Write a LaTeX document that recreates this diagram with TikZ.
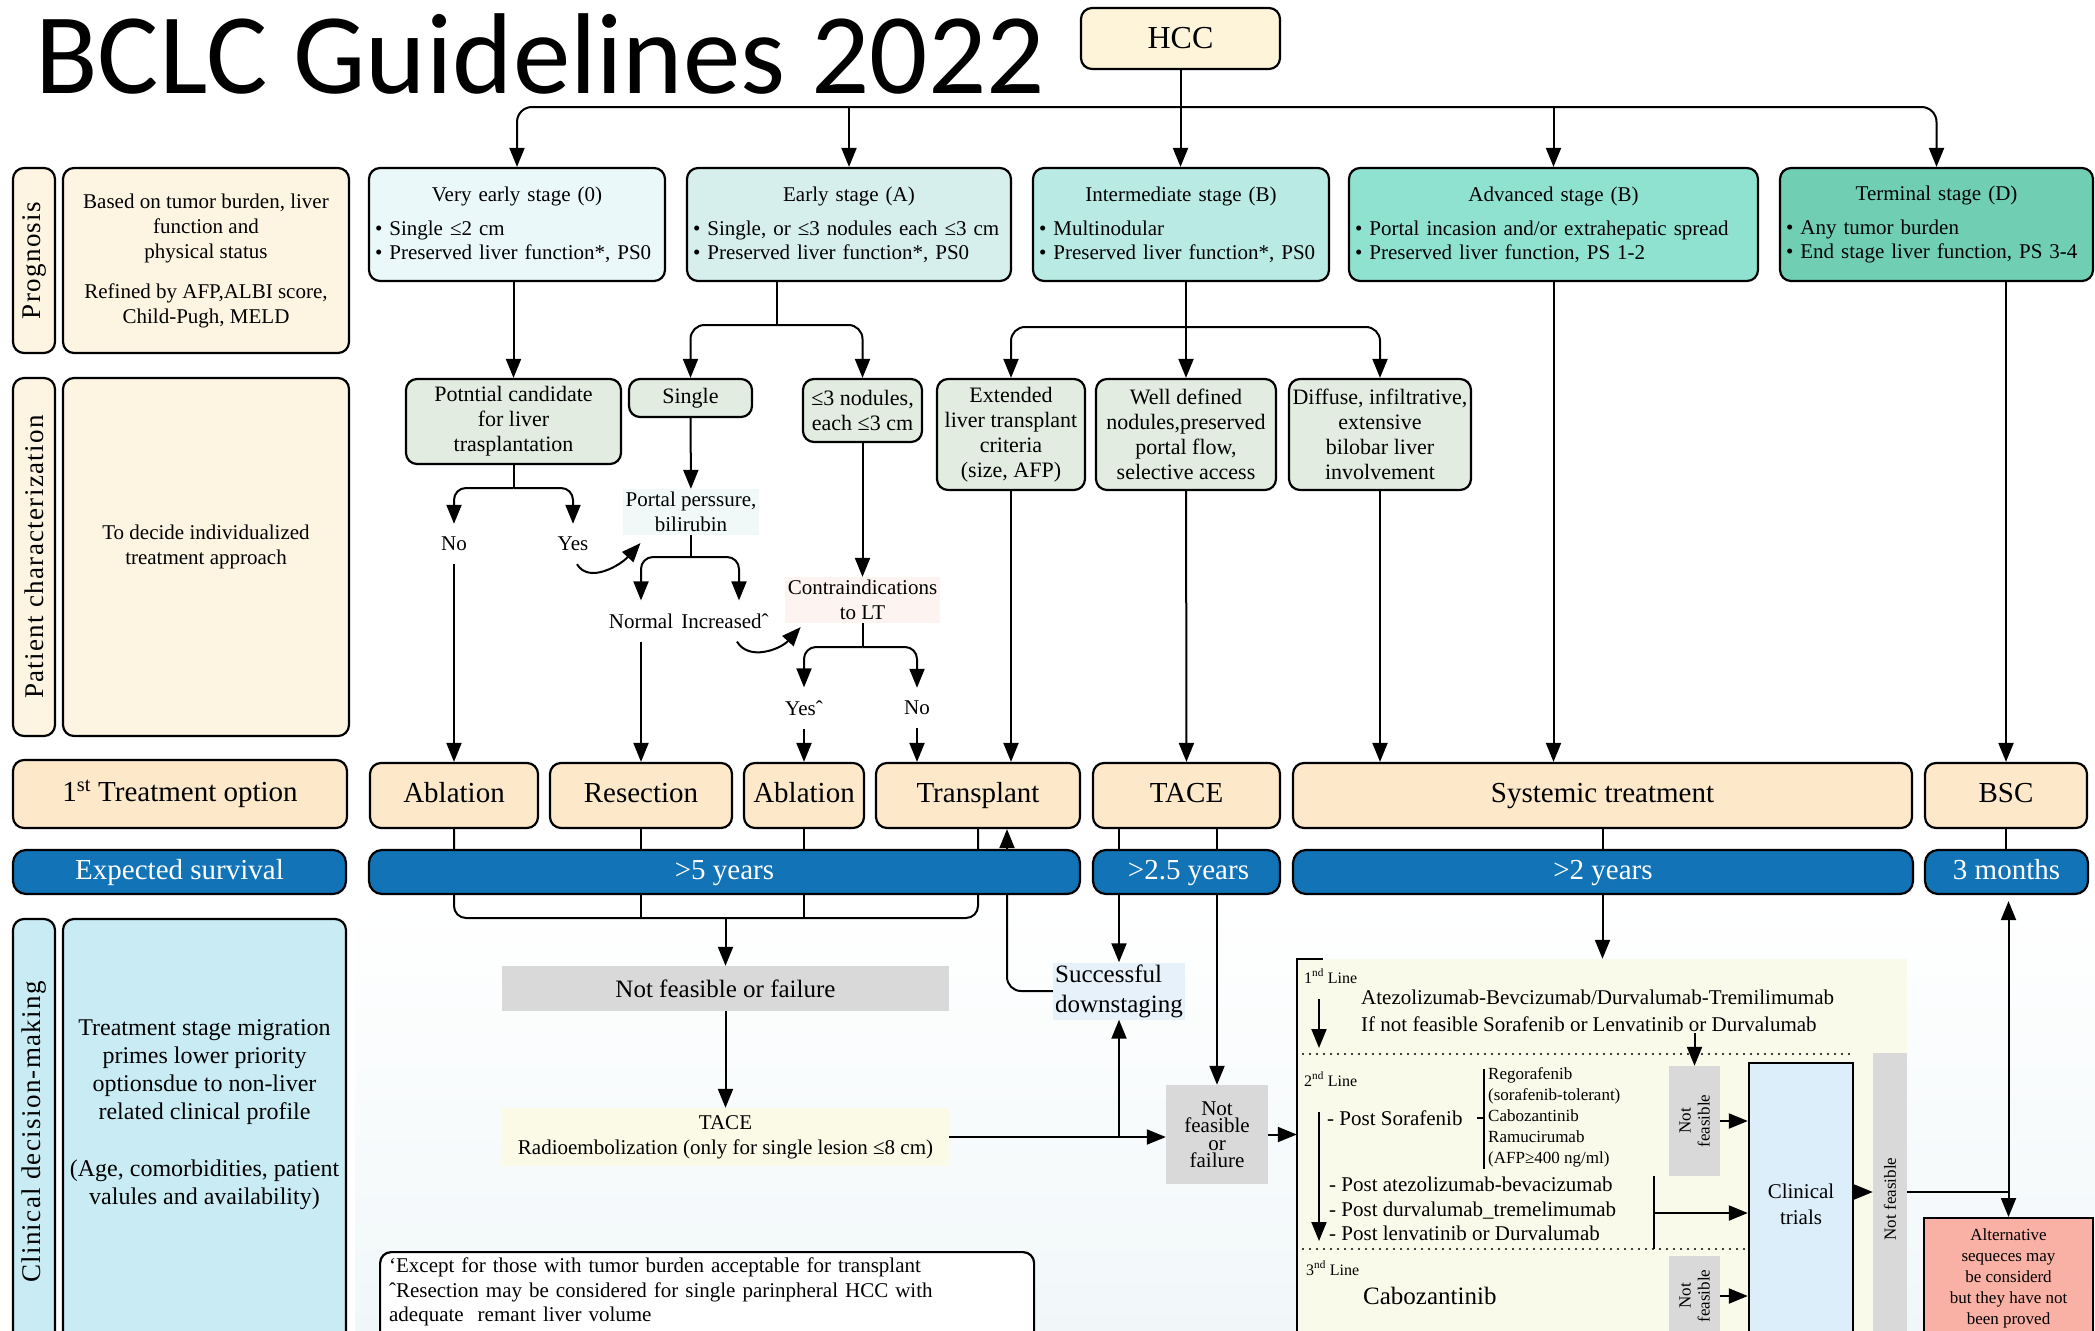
\documentclass[tikz,border=0pt]{standalone}
\usepackage{fontspec}
\setmainfont{Liberation Serif}
\newfontfamily\titlefont{Carlito}
\newfontfamily\tabfont[LetterSpace=5]{Liberation Serif}
\usetikzlibrary{arrows.meta}
\newcommand\pxfont[2]{\fontsize{#1}{#2}\selectfont}
\definecolor{cream}{HTML}{FDF4E1}
\definecolor{hccfill}{HTML}{FDF4DA}
\definecolor{peach}{HTML}{FDE8C9}
\definecolor{sage}{HTML}{E2ECE1}
\definecolor{st0}{HTML}{EAF8F9}
\definecolor{stA}{HTML}{D6EFEC}
\definecolor{stB}{HTML}{B9EBE4}
\definecolor{stC}{HTML}{8FE2D0}
\definecolor{stD}{HTML}{70CFB3}
\definecolor{survblue}{HTML}{1273B7}
\definecolor{clinblue}{HTML}{C9ECF4}
\definecolor{greyfill}{HTML}{D9D9D9}
\definecolor{sysfill}{HTML}{FAFAEA}
\definecolor{trialfill}{HTML}{DCEEFA}
\definecolor{altfill}{HTML}{F9B0A5}
\definecolor{portalfill}{HTML}{F1F9F8}
\definecolor{contrafill}{HTML}{FDF4F1}
\definecolor{succfill}{HTML}{E6F1FA}
\definecolor{radiofill}{HTML}{FAFAE6}
\definecolor{bgfill}{HTML}{F1F7F9}
\tikzset{
  arr/.style={-{Triangle[length=19pt,width=15pt]}, line width=2pt},
  con/.style={line width=2pt},
  rbox/.style={draw, line width=2.2pt, rounded corners=11pt, inner sep=4pt},
  stage/.style={rbox, align=left, font=\pxfont{21}{24}},
  tab/.style={rbox, rotate=90, fill=cream, font=\tabfont\pxfont{27}{30}},
  desc/.style={rbox, fill=cream, align=center, font=\pxfont{21}{25}},
  choice/.style={rbox, fill=sage, align=center, inner xsep=2pt, font=\pxfont{22}{25}},
  opt/.style={rbox, fill=peach, text height=20pt, text depth=6pt, font=\pxfont{29}{32}},
  surv/.style={rbox, fill=survblue, text=white, rounded corners=13pt, text height=20pt, text depth=6pt, font=\pxfont{29}{32}},
  lbl/.style={inner xsep=2pt, inner ysep=13pt, font=\pxfont{21}{25}},
  note/.style={align=center, inner sep=3pt, font=\pxfont{21}{25}},
  greybox/.style={fill=greyfill, inner sep=2pt, align=center, font=\pxfont{17}{19}},
  linetxt/.style={anchor=base west, inner sep=1pt, font=\pxfont{16}{18}},
  systxt/.style={anchor=west, align=left, inner sep=1pt, font=\pxfont{21}{25}},
  dotline/.style={line width=2.4pt, line cap=round, dash pattern=on 0pt off 7pt}
}
\begin{document}
\begin{tikzpicture}[x=1pt,y=-1pt]
\useasboundingbox (0,0) rectangle (2095,1330);
\clip (0,0) rectangle (2095,1330);
\shade[top color=white, bottom color=bgfill] (355,900) rectangle (2095,1330);

\node[anchor=base west, inner sep=0, font=\titlefont\pxfont{115}{120}] (title) at (35,93) {BCLC Guidelines 2022};
\node[rbox, fill=hccfill, minimum width=199, minimum height=61, font=\pxfont{32}{34}] (hcc) at (1180.5,38.5) {HCC};

\node[tab, minimum width=185, minimum height=42] (progtab) at (34,260.5) {Prognosis};
\node[desc, minimum width=286, minimum height=185] (progdesc) at (206,260.5) {Based on tumor burden, liver\\function and\\physical status\\[15pt]Refined by AFP,ALBI score,\\Child-Pugh, MELD};
\node[tab, minimum width=358, minimum height=42] (pattab) at (34,557) {Patient characterization};
\node[desc, minimum width=286, minimum height=358] (patdesc) at (206,557) {To decide individualized\\treatment approach\\~};
\node[opt, minimum width=334, minimum height=68] (firstopt) at (180,794) {1\textsuperscript{st} Treatment option};
\node[surv, minimum width=333, minimum height=44] (expsurv) at (179.5,872) {Expected survival};
\node[tab, fill=clinblue, minimum width=426, minimum height=42] (clintab) at (34,1132) {Clinical decision-making};
\node[desc, fill=clinblue, minimum width=283, minimum height=426, font=\pxfont{24}{28}] (clindesc) at (204.5,1132) {Treatment stage migration\\primes lower priority\\optionsdue to non-liver\\related clinical profile\\[29pt](Age, comorbidities, patient\\valules and availability)\\[12pt]~};

\node[stage, fill=st0, minimum width=296, minimum height=113, text width=284] (verye) at (517,224.5) {\makebox[\hsize]{Very early stage (0)}\\[10pt]• Single ≤2 cm\\• Preserved liver function*, PS0};
\node[stage, fill=stA, minimum width=324, minimum height=113, text width=312] (early) at (849,224.5) {\makebox[\hsize]{Early stage (A)}\\[10pt]• Single, or ≤3 nodules each ≤3 cm\\• Preserved liver function*, PS0};
\node[stage, fill=stB, minimum width=296, minimum height=113, text width=284] (inter) at (1181,224.5) {\makebox[\hsize]{Intermediate stage (B)}\\[10pt]• Multinodular\\• Preserved liver function*, PS0};
\node[stage, fill=stC, minimum width=409, minimum height=113, text width=397] (adv) at (1553.5,224.5) {\makebox[\hsize]{Advanced stage (B)}\\[10pt]• Portal incasion and/or extrahepatic spread\\• Preserved liver function, PS 1-2};
\node[stage, fill=stD, minimum width=313, minimum height=113, text width=301] (term) at (1936.5,224.5) {\makebox[\hsize]{Terminal stage (D)}\\[10pt]• Any tumor burden\\• End stage liver function, PS 3-4};

\node[choice, minimum width=215, minimum height=85] (potcand) at (513.5,421.5) {Potntial candidate\\for liver\\trasplantation};
\node[choice, minimum width=123, minimum height=38] (single) at (690.5,398) {Single};
\node[choice, minimum width=119, minimum height=63] (nodules) at (862.5,410.5) {≤3 nodules,\\each ≤3 cm};
\node[choice, minimum width=148, minimum height=111] (extended) at (1011,434.5) {Extended\\liver transplant\\criteria\\(size, AFP)};
\node[choice, minimum width=180, minimum height=111] (welldef) at (1186,434.5) {Well defined\\nodules,preserved\\portal flow,\\selective access};
\node[choice, minimum width=182, minimum height=111] (diffuse) at (1380,434.5) {Diffuse, infiltrative,\\extensive\\bilobar liver\\involvement};

\node[lbl] (no1) at (454,544) {No};
\node[lbl] (yes1) at (573,544) {Yes};
\node[note, fill=portalfill] (portal) at (691,512) {Portal perssure,\\bilirubin};
\node[lbl] (normal) at (641,621) {Normal};
\node[lbl] (incr) at (725,621) {Increasedˆ};
\node[note, fill=contrafill] (contra) at (862.5,600) {Contraindications\\to LT};
\node[lbl] (yes2) at (804,708) {Yesˆ};
\node[lbl] (no2) at (917,708) {No};

\node[opt, minimum width=168, minimum height=65] (abl1) at (454,795.5) {Ablation};
\node[opt, minimum width=182, minimum height=65] (resec) at (641,795.5) {Resection};
\node[opt, minimum width=120, minimum height=65] (abl2) at (804,795.5) {Ablation};
\node[opt, minimum width=204, minimum height=65] (trans) at (978,795.5) {Transplant};
\node[opt, minimum width=187, minimum height=65] (tace) at (1186.5,795.5) {TACE};
\node[opt, minimum width=619, minimum height=65] (sys) at (1602.5,795.5) {Systemic treatment};
\node[opt, minimum width=162, minimum height=65] (bsc) at (2006,795.5) {BSC};

\node[greybox, minimum width=447, minimum height=45, font=\pxfont{25}{28}] (nff) at (725.5,988.5) {Not feasible or failure};
\node[note, fill=radiofill, minimum width=447, minimum height=58] (radio) at (725.5,1137) {TACE\\Radioembolization (only for single lesion ≤8 cm)};
\node[note, fill=succfill, align=left, inner sep=2pt, font=\pxfont{25}{30}] (succ) at (1119,991) {Successful\\downstaging};
\node[greybox, minimum width=102, minimum height=99, font=\pxfont{21}{17.5}] (nf2) at (1217,1134.5) {Not\\feasible\\or\\failure};
\node[fill=sysfill, minimum width=610, minimum height=386, inner sep=0] (sysreg) at (1602,1152) {};

\node[linetxt] (l1) at (1303,983) {1\textsuperscript{nd} Line};
\node[systxt, font=\pxfont{21}{27}] (atezo) at (1360,1011) {Atezolizumab-Bevcizumab/Durvalumab-Tremilimumab\\If not feasible Sorafenib or Lenvatinib or Durvalumab};
\node[linetxt] (l2) at (1303,1086) {2\textsuperscript{nd} Line};
\node[systxt] (postsor) at (1326,1118) {- Post Sorafenib};
\node[systxt, font=\pxfont{17}{21}] (reg) at (1487,1117) {Regorafenib\\(sorafenib-tolerant)\\Cabozantinib\\Ramucirumab\\(AFP≥400 ng/ml)};
\node[systxt, font=\pxfont{21}{24.5}] (posts) at (1328,1209) {- Post atezolizumab-bevacizumab\\- Post durvalumab\_tremelimumab\\- Post lenvatinib or Durvalumab};
\node[linetxt] (l3) at (1305,1275) {3\textsuperscript{nd} Line};
\node[systxt, font=\pxfont{25}{28}] (cabo) at (1362,1296) {Cabozantinib};

\node[greybox, rotate=90, minimum width=110, minimum height=51] (nfa) at (1694.5,1121) {Not\\feasible};
\node[greybox, rotate=90, minimum width=80, minimum height=51] (nfb) at (1694.5,1296) {Not\\feasible};
\node[draw, line width=2.4pt, fill=trialfill, minimum width=104, minimum height=282, align=center, font=\pxfont{21}{26}] (ct) at (1801,1204) {Clinical\\trials};
\node[greybox, rotate=90, minimum width=292, minimum height=34] (nfc) at (1890,1199) {Not feasible};
\node[draw, line width=2pt, fill=altfill, minimum width=169, minimum height=120, align=center, font=\pxfont{17}{21}] (alt) at (2008.5,1278) {Alternative\\sequeces may\\be considerd\\but they have not\\been proved};
\node[rbox, fill=white, anchor=north west, minimum width=654, minimum height=100, text width=636, align=left, font=\pxfont{21}{24.5}] (foot) at (379,1251) {‘Except for those with tumor burden acceptable for transplant\\ˆResection may be considered for single parinpheral HCC with\\adequate\ \ remant liver volume\\~};

\coordinate (split) at (1180.5,107);
\draw[arr] (hcc.south) -- (hcc.south |- inter.north);
\draw[arr, rounded corners=15pt] (split) -| (verye.north);
\draw[arr, rounded corners=15pt] (split) -| (term.north);
\draw[arr] (split -| early.north) -- (early.north);
\draw[arr] (split -| adv.north) -- (adv.north);

\draw[arr] (verye.south -| potcand.north) -- (potcand.north);
\coordinate (esplit) at (777,325);
\draw[con] (early.south -| esplit) -- (esplit);
\draw[arr, rounded corners=14pt] (esplit) -| (single.north);
\draw[arr, rounded corners=14pt] (esplit) -| (nodules.north);
\coordinate (isplit) at (1186,327);
\draw[con] (inter.south -| isplit) -- (isplit);
\draw[arr, rounded corners=14pt] (isplit) -| (extended.north);
\draw[arr] (isplit) -- (welldef.north);
\draw[arr, rounded corners=14pt] (isplit) -| (diffuse.north);
\draw[arr] (adv.south) -- (adv.south |- sys.north);
\draw[arr] (term.south -| bsc.north) -- (bsc.north);

\coordinate (psplit) at (513.5,488);
\draw[con] (potcand) -- (psplit);
\draw[arr, rounded corners=12pt] (psplit) -| (no1.north);
\draw[arr, rounded corners=12pt] (psplit) -| (yes1.north);
\draw[arr] (no1) -- (abl1);
\draw[arr] ([xshift=4pt]yes1.south) .. controls +(12,20) and +(-20,22) .. ([xshift=18pt,yshift=-8pt]portal.south west);
\draw[arr] (single) -- (portal);
\coordinate (ppsplit) at (691,557);
\draw[con] (portal) -- (ppsplit);
\draw[arr, rounded corners=12pt] (ppsplit) -| (normal.north);
\draw[arr, rounded corners=12pt] (ppsplit) -| ([xshift=14pt]incr.north);
\draw[arr] (normal) -- (resec);
\draw[arr] ([xshift=12pt]incr.south) .. controls +(12,20) and +(-20,22) .. ([xshift=16pt,yshift=-4pt]contra.south west);
\draw[arr] (nodules) -- (contra);
\coordinate (csplit) at (862.5,647);
\draw[con] (contra) -- (csplit);
\draw[arr, rounded corners=12pt] (csplit) -| (yes2.north);
\draw[arr, rounded corners=12pt] (csplit) -| (no2.north);
\draw[arr] (yes2) -- (abl2);
\draw[arr] (no2.south) -- (no2.south |- trans.north);
\draw[arr] (extended.south) -- (extended.south |- trans.north);
\draw[arr] (welldef) -- (tace);
\draw[arr] (diffuse.south) -- (diffuse.south |- sys.north);

\coordinate (mergeR) at (978,918);
\coordinate (mergeC) at (725.5,918);
\draw[con, rounded corners=12pt] (abl1.south) |- (mergeR) -- (trans.south);
\draw[con] (resec) -- (resec.south |- mergeR);
\draw[con] (abl2) -- (abl2.south |- mergeR);
\draw[arr] (mergeC) -- (nff);
\draw[arr] (nff) -- (radio);
\coordinate (dsx) at ([xshift=29pt]trans.south);
\draw[arr, rounded corners=14pt] (succ.west) -| (dsx);
\draw[arr] (tace.south -| succ.north) -- (succ.north);
\draw[arr] (tace.south -| nf2.north) -- (nf2.north);
\draw[arr] (radio.east) -- (radio.east -| nf2.west);
\draw[arr] (radio.east -| succ.south) -- (succ.south);
\draw[arr] (nf2.east) -- (nf2.east -| sysreg.west);
\draw[arr] (sys.south) -- (sys.south |- sysreg.north);
\draw[con] (bsc) -- (bsc.south |- expsurv.north);
\draw[line width=2.6pt] ([xshift=26pt]sysreg.north west) -| (sysreg.south west);

\coordinate (a1s) at (1319,999);
\coordinate (a1e) at (1319,1048);
\draw[arr] (a1s) -- (a1e);
\draw[dotline] (1303,1054) -- (1852,1054);
\draw[arr] (atezo.south -| nfa.east) -- (nfa.east);
\coordinate (a2s) at (1319,1112);
\coordinate (a2e) at (1319,1241);
\draw[arr] (a2s) -- (a2e);
\draw[con] (1484,1069) -- (1484,1169);
\draw[con] (1477,1118) -- (1484,1118);
\coordinate (b2top) at (1654,1176);
\coordinate (b2bot) at (1654,1249);
\coordinate (b2) at (1654,1213);
\draw[con] (b2top) -- (b2bot);
\draw[arr] (b2) -- (b2 -| ct.west);
\draw[dotline] (1303,1249) -- (1750,1249);
\draw[arr] (nfa.south) -- (nfa.south -| ct.west);
\draw[arr] (nfb.south) -- (nfb.south -| ct.west);
\coordinate (ctout) at ([yshift=12pt]ct.east);
\draw[arr] (ctout) -- (ctout -| nfc.north);
\draw[con] (ctout -| nfc.south) -- (ctout -| alt.north);
\draw[arr] (ctout -| alt.north) -- (alt.north);
\draw[arr, shorten >=6pt] (ctout -| alt.north) -- (alt.north |- expsurv.south);

\node[surv, minimum width=711, minimum height=44] (surv5) at (724.5,872) {>5 years};
\node[surv, minimum width=187, minimum height=44] (surv25) at (1186.5,872) {\hspace{4pt}>2.5 years};
\node[surv, minimum width=620, minimum height=44] (surv2) at (1603,872) {>2 years};
\node[surv, minimum width=163, minimum height=44] (surv3m) at (2006.5,872) {3 months};
\end{tikzpicture}
\end{document}
